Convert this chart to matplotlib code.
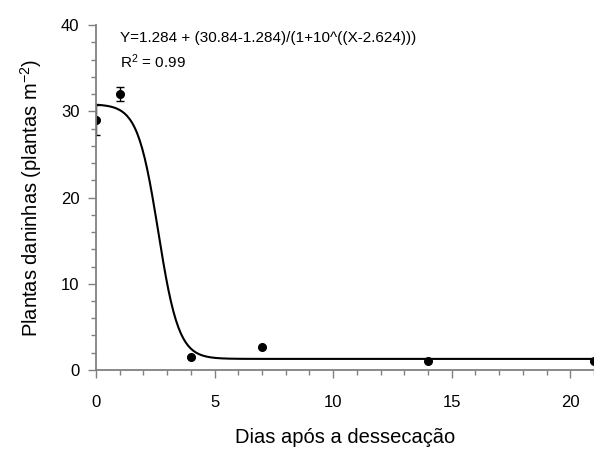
import numpy as np
import matplotlib
matplotlib.use("Agg")
import matplotlib.pyplot as plt
from matplotlib.ticker import MultipleLocator

plt.rcParams['font.family'] = ['Liberation Sans', 'DejaVu Sans']
plt.rcParams['mathtext.default'] = 'regular'

# observed data
dias = [0, 1, 4, 7, 14, 21]
plantas = [29.0, 32.0, 1.5, 2.7, 1.0, 1.0]
erro = [1.7, 0.8, 0, 0, 0, 0]

# fitted model parameters (from equation on chart)
bottom_val = 1.284
top_val = 30.84
x50 = 2.624

xfit = np.linspace(0, 21, 400)
yfit = bottom_val + (top_val - bottom_val) / (1 + 10 ** (xfit - x50))

fig = plt.figure(figsize=(5.94, 4.49), dpi=100)
ax = fig.add_axes([0.1616, 0.176, 0.8384, 0.768])

ax.plot(xfit, yfit, color='black', lw=1.5)
ax.errorbar(dias, plantas, yerr=erro, fmt='o', color='black', ms=5.5,
            ecolor='black', elinewidth=1, capsize=3, capthick=1)

ax.set_xlim(0, 21)
ax.set_ylim(0, 40)
ax.xaxis.set_major_locator(MultipleLocator(5))
ax.xaxis.set_minor_locator(MultipleLocator(1))
ax.yaxis.set_major_locator(MultipleLocator(10))
ax.yaxis.set_minor_locator(MultipleLocator(2))

for s in ['top', 'right']:
    ax.spines[s].set_visible(False)
for s in ['left', 'bottom']:
    ax.spines[s].set_color('#808080')
    ax.spines[s].set_linewidth(1.3)

ax.tick_params(which='major', length=6, width=1, color='#808080', labelsize=12, pad=6)
ax.tick_params(which='minor', length=3.5, width=1, color='#808080')
ax.tick_params(axis='x', which='major', pad=12)

ax.set_xlabel('Dias após a dessecação', fontsize=14.5, labelpad=13)
ax.set_ylabel('Plantas daninhas (plantas m$^{-2}$)', fontsize=14.5, labelpad=12)

ax.text(1.0, 38.1, 'Y=1.284 + (30.84-1.284)/(1+10^((X-2.624)))', fontsize=11, va='baseline')
ax.text(1.0, 35.0, 'R$^{2}$ = 0.99', fontsize=11, va='baseline')

fig.savefig('out.png', dpi=100)
